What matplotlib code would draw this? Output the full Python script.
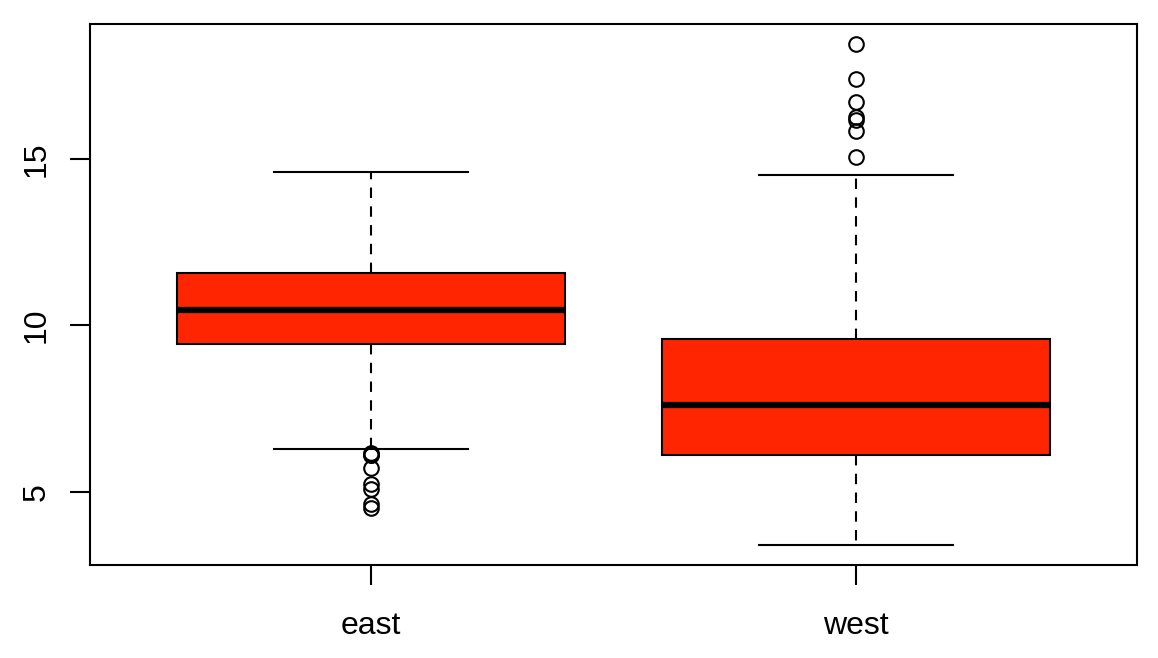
import matplotlib.pyplot as plt

plt.rcParams['font.family'] = ['Liberation Sans', 'DejaVu Sans']

# 箱ひげ図の統計量
groups = ['east', 'west']
whislo = [6.30, 3.40]
q1 = [9.43, 6.11]
med = [10.45, 7.62]
q3 = [11.57, 9.58]
whishi = [14.61, 14.52]
fliers = [
    [6.17, 6.12, 6.10, 5.72, 5.24, 5.07, 4.64, 4.52],
    [18.45, 17.40, 16.73, 16.27, 16.19, 15.83, 15.05],
]

stats = []
for i, g in enumerate(groups):
    stats.append(dict(label=g, whislo=whislo[i], q1=q1[i], med=med[i],
                      q3=q3[i], whishi=whishi[i], fliers=fliers[i]))

fig = plt.figure(figsize=(11.58, 6.58), dpi=100)
ax = fig.add_axes([0.0777, 0.1413, 0.9042, 0.8222])

lw = 1.5
ax.bxp(stats, positions=[1, 2], widths=0.8, patch_artist=True,
       boxprops=dict(facecolor='#ff2500', edgecolor='black', linewidth=lw),
       medianprops=dict(color='black', linewidth=4.5, solid_capstyle='butt'),
       whiskerprops=dict(color='black', linewidth=lw, linestyle=(0, (5, 4))),
       capprops=dict(color='black', linewidth=lw),
       capwidths=0.4,
       flierprops=dict(marker='o', markerfacecolor='none', markeredgecolor='black',
                       markersize=10.5, markeredgewidth=lw))

ax.set_xlim(0.42, 2.58)
ax.set_ylim(2.80, 19.06)
ax.set_yticks([5, 10, 15])
ax.set_xticks([1, 2])
ax.set_xticklabels(groups)
for s in ax.spines.values():
    s.set_linewidth(lw)
ax.tick_params(direction='out', length=14.4, width=lw, labelsize=23)
ax.tick_params(axis='x', pad=19)
ax.tick_params(axis='y', pad=13)
for t in ax.get_yticklabels():
    t.set_rotation(90)
    t.set_va('center')

fig.savefig('out.png', dpi=100)
